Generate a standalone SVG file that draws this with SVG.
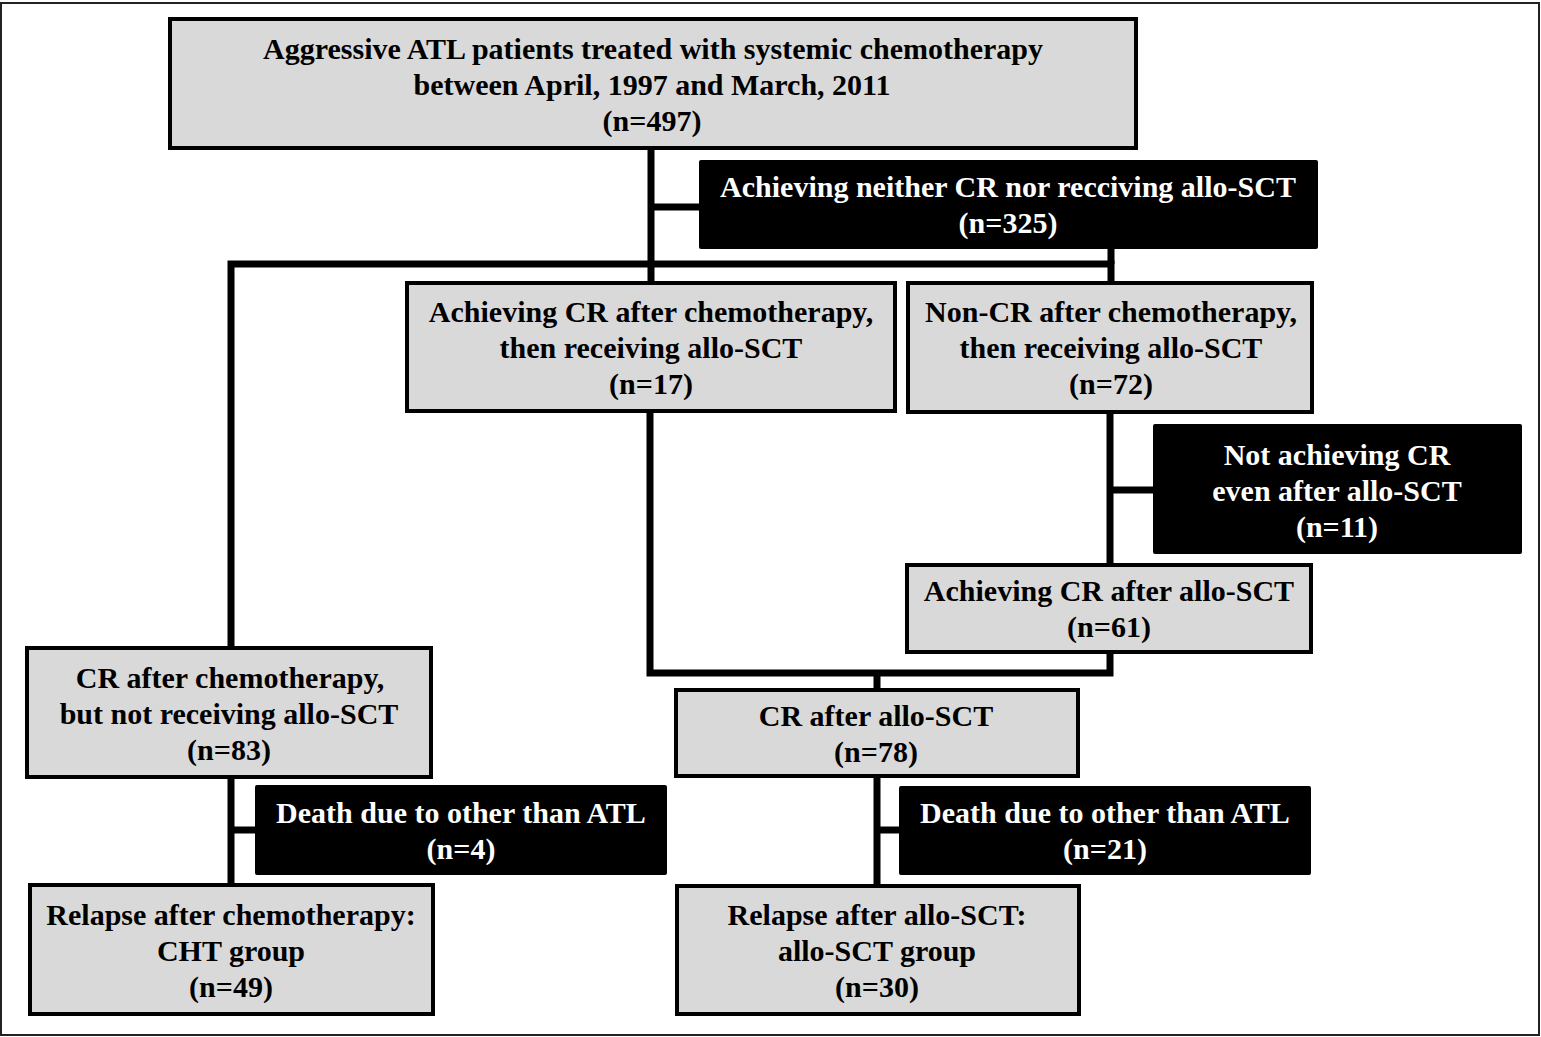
<svg xmlns="http://www.w3.org/2000/svg" width="1541" height="1037" viewBox="0 0 1541 1037">
<style>
.g{fill:#d9d9d9;stroke:#000;stroke-width:4}
.b{fill:#000}
.t{font-family:"Liberation Serif","Times New Roman",serif;font-weight:bold;font-size:30px;text-anchor:middle}
.gt{fill:#000}
.bt{fill:#fff}
.c{fill:none;stroke:#000;stroke-width:7;stroke-linecap:butt;stroke-linejoin:miter}
</style>
<rect x="0" y="0" width="1541" height="1037" fill="#fff"/>
<rect x="1" y="3" width="1538" height="1032" fill="none" stroke="#222" stroke-width="2"/>
<g id="connectors">
<path class="c" d="M651 148V283"/>
<path class="c" d="M651 207H699"/>
<path class="c" d="M231 648V264H1111V283"/>
<path class="c" d="M1111 249V264"/>
<path class="c" d="M1110 412V565"/>
<path class="c" d="M1110 490H1153"/>
<path class="c" d="M650 411V673H1110V652"/>
<path class="c" d="M877 673V690"/>
<path class="c" d="M877 776V886"/>
<path class="c" d="M877 830H899"/>
<path class="c" d="M231 777V885"/>
<path class="c" d="M231 830H255"/>
</g>
<g id="n1">
<rect class="g" x="170" y="19" width="966" height="129"/>
<text class="t gt" x="653" y="59">Aggressive ATL patients treated with systemic chemotherapy</text>
<text class="t gt" x="652" y="95">between April, 1997 and March, 2011</text>
<text class="t gt" x="652" y="131">(n=497)</text>
</g>
<g id="n2">
<rect class="b" x="699" y="160" width="619" height="89" rx="2"/>
<text class="t bt" x="1008" y="197">Achieving neither CR nor recciving allo-SCT</text>
<text class="t bt" x="1008" y="233">(n=325)</text>
</g>
<g id="n3">
<rect class="g" x="407" y="283" width="488" height="128"/>
<text class="t gt" x="651" y="322">Achieving CR after chemotherapy,</text>
<text class="t gt" x="651" y="358">then receiving allo-SCT</text>
<text class="t gt" x="651" y="394">(n=17)</text>
</g>
<g id="n4">
<rect class="g" x="908" y="283" width="404" height="129"/>
<text class="t gt" x="1111" y="322">Non-CR after chemotherapy,</text>
<text class="t gt" x="1111" y="358">then receiving allo-SCT</text>
<text class="t gt" x="1111" y="394">(n=72)</text>
</g>
<g id="n5">
<rect class="b" x="1153" y="424" width="369" height="130" rx="2"/>
<text class="t bt" x="1337" y="465">Not achieving CR</text>
<text class="t bt" x="1337" y="501">even after allo-SCT</text>
<text class="t bt" x="1337" y="537">(n=11)</text>
</g>
<g id="n6">
<rect class="g" x="907" y="565" width="404" height="87"/>
<text class="t gt" x="1109" y="601">Achieving CR after allo-SCT</text>
<text class="t gt" x="1109" y="637">(n=61)</text>
</g>
<g id="n7">
<rect class="g" x="676" y="690" width="402" height="86"/>
<text class="t gt" x="876" y="726">CR after allo-SCT</text>
<text class="t gt" x="876" y="762">(n=78)</text>
</g>
<g id="n8">
<rect class="b" x="899" y="786" width="412" height="89" rx="2"/>
<text class="t bt" x="1105" y="823">Death due to other than ATL</text>
<text class="t bt" x="1105" y="859">(n=21)</text>
</g>
<g id="n9">
<rect class="g" x="677" y="886" width="402" height="128"/>
<text class="t gt" x="877" y="925">Relapse after allo-SCT:</text>
<text class="t gt" x="877" y="961">allo-SCT group</text>
<text class="t gt" x="877" y="997">(n=30)</text>
</g>
<g id="n10">
<rect class="g" x="27" y="648" width="404" height="129"/>
<text class="t gt" x="230" y="688">CR after chemotherapy,</text>
<text class="t gt" x="229" y="724">but not receiving allo-SCT</text>
<text class="t gt" x="229" y="760">(n=83)</text>
</g>
<g id="n11">
<rect class="b" x="255" y="785" width="412" height="90" rx="2"/>
<text class="t bt" x="461" y="823">Death due to other than ATL</text>
<text class="t bt" x="461" y="859">(n=4)</text>
</g>
<g id="n12">
<rect class="g" x="30" y="885" width="403" height="129"/>
<text class="t gt" x="231" y="925">Relapse after chemotherapy:</text>
<text class="t gt" x="231" y="961">CHT group</text>
<text class="t gt" x="231" y="997">(n=49)</text>
</g>
</svg>
